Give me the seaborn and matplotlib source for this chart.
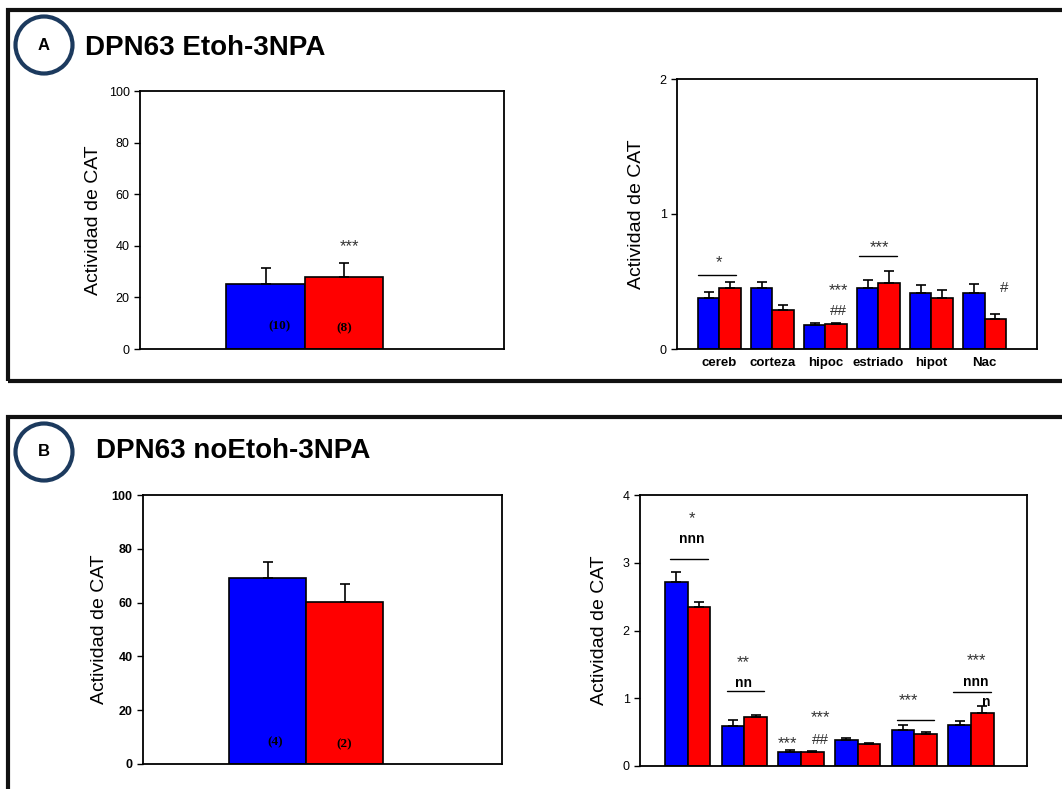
import pandas as pd
import numpy as np
import seaborn as sns
import matplotlib.pyplot as plt
from matplotlib.patches import Rectangle, Ellipse

# ---- data ----
groups = ['DPN63', '3NPA']
colors = ['#0000ff', '#ff0000']

# panel A, total activity
a_total_mean = [25.2, 27.9]
a_total_err = [6.2, 5.4]
a_total_n = ['(10)', '(8)']

# panel A, per region
regions = ['cereb', 'corteza', 'hipoc', 'estriado', 'hipot', 'Nac']
a_blue_mean = [0.38, 0.45, 0.178, 0.45, 0.415, 0.415]
a_blue_err = [0.04, 0.05, 0.012, 0.06, 0.06, 0.065]
a_red_mean = [0.45, 0.29, 0.187, 0.49, 0.38, 0.222]
a_red_err = [0.05, 0.036, 0.006, 0.085, 0.06, 0.035]

# panel B, total activity
b_total_mean = [69.0, 60.2]
b_total_err = [6.2, 6.8]
b_total_n = ['(4)', '(2)']

# panel B, per region
b_blue_mean = [2.72, 0.59, 0.20, 0.38, 0.537, 0.60]
b_blue_err = [0.14, 0.085, 0.04, 0.03, 0.07, 0.065]
b_red_mean = [2.35, 0.73, 0.20, 0.325, 0.468, 0.78]
b_red_err = [0.07, 0.03, 0.017, 0.015, 0.032, 0.11]

W, H = 1062, 789

sns.set_style('white')
plt.rcParams['font.family'] = ['Liberation Sans', 'DejaVu Sans']
for k in ['text.color', 'axes.labelcolor', 'xtick.color', 'ytick.color']:
    plt.rcParams[k] = 'black'

fig = plt.figure(figsize=(W / 100, H / 100), dpi=100)


def px_axes(x0, y0, x1, y1):
    return fig.add_axes([x0 / W, 1 - y1 / H, (x1 - x0) / W, (y1 - y0) / H])


def draw_bars(ax, cats, blue, blue_err, red, red_err):
    df = pd.DataFrame({
        'cat': list(cats) * 2,
        'grp': [groups[0]] * len(cats) + [groups[1]] * len(cats),
        'val': list(blue) + list(red),
    })
    sns.barplot(data=df, x='cat', y='val', hue='grp', order=list(cats),
                hue_order=groups, palette=colors, saturation=1,
                errorbar=None, edgecolor='black', linewidth=1.2,
                legend=False, ax=ax)
    errs = list(blue_err) + list(red_err)
    vals = list(blue) + list(red)
    bars = [p for p in ax.patches if isinstance(p, Rectangle)][:len(vals)]
    for p, v, e in zip(bars, vals, errs):
        xc = p.get_x() + p.get_width() / 2
        ax.errorbar(xc, v, yerr=[[0], [e]], fmt='none', ecolor='black',
                    elinewidth=1.2, capsize=3.5, capthick=1.2, zorder=3)
    ax.set_xlabel('')
    ax.set_ylabel('Actividad de CAT', fontsize=14)
    for s in ax.spines.values():
        s.set_visible(True)
        s.set_color('black')
        s.set_linewidth(1.3)
    ax.tick_params(axis='y', direction='out', length=4, width=1, left=True)
    ax.tick_params(axis='x', length=0)


def star(ax, x, y, s, size=12, bold=False, color='#333333'):
    ax.text(x, y, s, ha='center', va='center', fontsize=size,
            fontweight='bold' if bold else 'normal', color=color)


def bracket(ax, x0, x1, y):
    ax.plot([x0, x1], [y, y], color='black', lw=1)


# ---- panel frames and headings ----
fig.patches.append(Rectangle((8 / W, 1 - 381 / H), 1.1, (381 - 10) / H,
                             transform=fig.transFigure, fill=False,
                             lw=3, ec='#111111'))
fig.patches.append(Rectangle((8 / W, -0.1), 1.1, 0.1 + (789 - 417) / H,
                             transform=fig.transFigure, fill=False,
                             lw=3, ec='#111111'))
for cx, cy, lab in [(44, 45, 'A'), (44, 452, 'B')]:
    fig.patches.append(Ellipse((cx / W, 1 - cy / H), 57 / W, 57 / H,
                               transform=fig.transFigure, fill=True,
                               fc='white', lw=3, ec='#1c3a5e'))
    fig.text(cx / W, 1 - cy / H, lab, ha='center', va='center',
             fontsize=12, fontweight='bold')
fig.text(85 / W, 1 - 48 / H, 'DPN63 Etoh-3NPA', ha='left', va='center',
         fontsize=20, fontweight='bold')
fig.text(96 / W, 1 - 451 / H, 'DPN63 noEtoh-3NPA', ha='left', va='center',
         fontsize=20, fontweight='bold')

# ---- A left ----
ax1 = px_axes(140, 91, 504, 349)
draw_bars(ax1, [''], [a_total_mean[0]], [a_total_err[0]],
          [a_total_mean[1]], [a_total_err[1]])
ax1.set_ylim(0, 100)
ax1.set_xlim(-0.84, 1.015)
ax1.set_yticks([0, 20, 40, 60, 80, 100])
ax1.tick_params(axis='y', labelsize=9)
ax1.set_xticklabels([])
ax1.yaxis.set_label_coords(-0.104, 0.5)
star(ax1, 0.23, 39.5, '***')
ax1.text(-0.13, 8.9, a_total_n[0], ha='center', va='center', fontsize=9.5,
         fontweight='bold', family='Liberation Serif')
ax1.text(0.2, 8.1, a_total_n[1], ha='center', va='center', fontsize=9.5,
         fontweight='bold', family='Liberation Serif')

# ---- A right ----
ax2 = px_axes(677, 79, 1037, 349)
draw_bars(ax2, regions, a_blue_mean, a_blue_err, a_red_mean, a_red_err)
ax2.set_ylim(0, 2)
ax2.set_xlim(-0.8, 5.99)
ax2.set_yticks([0, 1, 2])
ax2.tick_params(axis='y', labelsize=9)
ax2.tick_params(axis='x', labelsize=9.5, pad=6)
for t in ax2.get_xticklabels():
    t.set_fontweight('bold')
ax2.yaxis.set_label_coords(-0.089, 0.5)
bracket(ax2, -0.41, 0.31, 0.548)
star(ax2, 0.0, 0.64, '*')
bracket(ax2, 2.63, 3.35, 0.69)
star(ax2, 3.01, 0.75, '***')
star(ax2, 2.24, 0.43, '***')
star(ax2, 2.24, 0.28, '##', size=11)
star(ax2, 5.37, 0.45, '#', size=11)

# ---- B left ----
ax3 = px_axes(143, 495, 502, 764)
draw_bars(ax3, [''], [b_total_mean[0]], [b_total_err[0]],
          [b_total_mean[1]], [b_total_err[1]])
ax3.set_ylim(0, 100)
ax3.set_xlim(-0.847, 1.018)
ax3.set_yticks([0, 20, 40, 60, 80, 100])
ax3.tick_params(axis='y', labelsize=9)
for t in ax3.get_yticklabels():
    t.set_fontweight('bold')
ax3.set_xticklabels([])
ax3.yaxis.set_label_coords(-0.0975, 0.5)
ax3.text(-0.16, 8.2, b_total_n[0], ha='center', va='center', fontsize=9.5,
         fontweight='bold', family='Liberation Serif')
ax3.text(0.2, 7.4, b_total_n[1], ha='center', va='center', fontsize=9.5,
         fontweight='bold', family='Liberation Serif')

# ---- B right ----
ax4 = px_axes(640, 495, 1027, 766)
draw_bars(ax4, regions, b_blue_mean, b_blue_err, b_red_mean, b_red_err)
ax4.set_ylim(0, 4)
ax4.set_xlim(-0.84, 5.99)
ax4.set_yticks([0, 1, 2, 3, 4])
ax4.tick_params(axis='y', labelsize=9)
ax4.set_xticklabels([])
ax4.yaxis.set_label_coords(-0.083, 0.5)
bracket(ax4, -0.31, 0.36, 3.05)
star(ax4, 0.08, 3.35, 'nnn', size=10, bold=True, color='black')
star(ax4, 0.08, 3.65, '*')
bracket(ax4, 0.70, 1.35, 1.10)
star(ax4, 0.98, 1.22, 'nn', size=10, bold=True, color='black')
star(ax4, 0.98, 1.52, '**')
star(ax4, 1.77, 0.33, '***')
star(ax4, 2.34, 0.71, '***')
star(ax4, 2.34, 0.38, '##', size=11)
bracket(ax4, 3.70, 4.35, 0.685)
star(ax4, 3.89, 0.965, '***')
bracket(ax4, 4.68, 5.35, 1.09)
star(ax4, 5.09, 1.24, 'nnn', size=10, bold=True, color='black')
star(ax4, 5.09, 1.56, '***')
star(ax4, 5.27, 0.95, 'n', size=10, bold=True, color='black')

fig.savefig('out.png', dpi=100)
